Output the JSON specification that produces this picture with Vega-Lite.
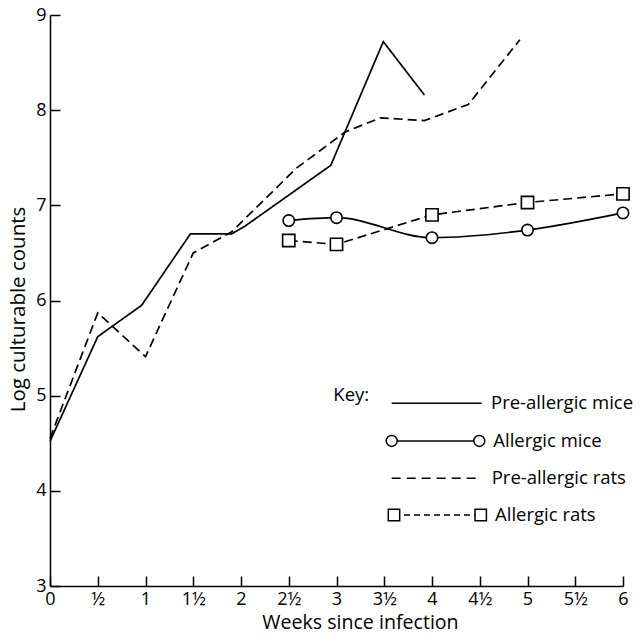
{
  "$schema": "https://vega.github.io/schema/vega-lite/v6.json",
  "width": 573,
  "height": 571,
  "autosize": {"type": "none"},
  "padding": {"left": 50, "top": 15, "right": 17, "bottom": 52},
  "background": "white",
  "config": {
    "view": {"stroke": null},
    "font": "Open Sans",
    "axis": {"grid": false, "domainColor": "black", "domainWidth": 1.5, "tickColor": "black", "tickWidth": 1.5, "labelColor": "black", "titleColor": "black", "labelFont": "Open Sans", "titleFont": "Open Sans", "labelFontSize": 18, "titleFontWeight": "normal"}
  },
  "datasets": {
    "counts": [
      {"series": "Pre-allergic mice", "week": 0, "value": 4.52},
      {"series": "Pre-allergic mice", "week": 0.5, "value": 5.62},
      {"series": "Pre-allergic mice", "week": 0.96, "value": 5.95},
      {"series": "Pre-allergic mice", "week": 1.47, "value": 6.7},
      {"series": "Pre-allergic mice", "week": 1.9, "value": 6.7},
      {"series": "Pre-allergic mice", "week": 2.04, "value": 6.78},
      {"series": "Pre-allergic mice", "week": 2.94, "value": 7.42},
      {"series": "Pre-allergic mice", "week": 3.49, "value": 8.72},
      {"series": "Pre-allergic mice", "week": 3.92, "value": 8.16},
      {"series": "Pre-allergic rats", "week": 0, "value": 4.55},
      {"series": "Pre-allergic rats", "week": 0.5, "value": 5.87},
      {"series": "Pre-allergic rats", "week": 1, "value": 5.41},
      {"series": "Pre-allergic rats", "week": 1.5, "value": 6.5},
      {"series": "Pre-allergic rats", "week": 1.9, "value": 6.72},
      {"series": "Pre-allergic rats", "week": 2.58, "value": 7.39},
      {"series": "Pre-allergic rats", "week": 3.09, "value": 7.77},
      {"series": "Pre-allergic rats", "week": 3.46, "value": 7.92},
      {"series": "Pre-allergic rats", "week": 3.92, "value": 7.89},
      {"series": "Pre-allergic rats", "week": 4.38, "value": 8.06},
      {"series": "Pre-allergic rats", "week": 4.92, "value": 8.74},
      {"series": "Allergic mice", "week": 2.5, "value": 6.84},
      {"series": "Allergic mice", "week": 3, "value": 6.87},
      {"series": "Allergic mice", "week": 4, "value": 6.66},
      {"series": "Allergic mice", "week": 5, "value": 6.74},
      {"series": "Allergic mice", "week": 6, "value": 6.92},
      {"series": "Allergic rats", "week": 2.5, "value": 6.63},
      {"series": "Allergic rats", "week": 3, "value": 6.59},
      {"series": "Allergic rats", "week": 4, "value": 6.9},
      {"series": "Allergic rats", "week": 5, "value": 7.03},
      {"series": "Allergic rats", "week": 6, "value": 7.12}
    ],
    "key": [
      {"part": "label", "series": "Key:", "week": 2.967, "value": 5.01},
      {"part": "line", "series": "Pre-allergic mice", "week": 3.578, "week2": 4.52, "value": 4.92},
      {"part": "label", "series": "Pre-allergic mice", "week": 4.618, "value": 4.92},
      {"part": "line", "series": "Allergic mice", "week": 3.578, "week2": 4.495, "value": 4.524},
      {"part": "marker", "series": "Allergic mice", "week": 3.578, "value": 4.524},
      {"part": "marker", "series": "Allergic mice", "week": 4.495, "value": 4.524},
      {"part": "label", "series": "Allergic mice", "week": 4.642, "value": 4.524},
      {"part": "line", "series": "Pre-allergic rats", "week": 3.578, "week2": 4.468, "value": 4.132},
      {"part": "label", "series": "Pre-allergic rats", "week": 4.625, "value": 4.132},
      {"part": "line", "series": "Allergic rats", "week": 3.602, "week2": 4.51, "value": 3.746},
      {"part": "marker", "series": "Allergic rats", "week": 3.602, "value": 3.746},
      {"part": "marker", "series": "Allergic rats", "week": 4.51, "value": 3.746},
      {"part": "label", "series": "Allergic rats", "week": 4.66, "value": 3.746}
    ]
  },
  "encoding": {
    "x": {"field": "week", "type": "quantitative", "scale": {"domain": [0, 6], "nice": false, "zero": false},
      "axis": {"title": "Weeks since infection", "titleX": 310, "titleFontSize": 19.6, "values": [0, 0.5, 1, 1.5, 2, 2.5, 3, 3.5, 4, 4.5, 5, 5.5, 6], "tickSize": -10, "labelPadding": 14, "labelExpr": "datum.value == 0 ? '0' : (datum.value % 1 == 0 ? format(datum.value, 'd') : (datum.value < 1 ? '½' : floor(datum.value) + '½'))", "titlePadding": 5, "labelFlush": false}},
    "y": {"field": "value", "type": "quantitative", "scale": {"domain": [3, 9], "nice": false, "zero": false},
      "axis": {"title": "Log culturable counts", "titleY": 294, "titleFontSize": 20.5, "values": [3, 4, 5, 6, 7, 8, 9], "tickSize": -10, "labelPadding": 14, "titlePadding": 7, "labelFlush": false}}
  },
  "layer": [
    {
      "data": {"name": "counts"},
      "transform": [{"filter": "datum.series != 'Allergic mice'"}],
      "mark": {"type": "line", "color": "black", "strokeWidth": 1.7},
      "encoding": {
        "strokeDash": {"field": "series", "type": "nominal", "legend": null,
          "scale": {"domain": ["Pre-allergic mice", "Allergic mice", "Pre-allergic rats", "Allergic rats"], "range": [[1, 0], [1, 0], [9, 5], [9, 5]]}}
      }
    },
    {
      "data": {"name": "counts"},
      "transform": [{"filter": "datum.series == 'Allergic mice'"}],
      "mark": {"type": "line", "color": "black", "strokeWidth": 1.7, "interpolate": "monotone"}
    },
    {
      "data": {"name": "counts"},
      "transform": [{"filter": "datum.series == 'Allergic mice'"}],
      "mark": {"type": "point", "shape": "circle", "size": 130, "filled": true, "fill": "white", "stroke": "black", "strokeWidth": 1.6, "opacity": 1}
    },
    {
      "data": {"name": "counts"},
      "transform": [{"filter": "datum.series == 'Allergic rats'"}],
      "mark": {"type": "point", "shape": "square", "size": 150, "filled": true, "fill": "white", "stroke": "black", "strokeWidth": 1.6, "opacity": 1}
    },
    {
      "data": {"name": "key"},
      "transform": [{"filter": "datum.part == 'line' && (datum.series == 'Pre-allergic mice' || datum.series == 'Allergic mice')"}],
      "mark": {"type": "rule", "color": "black", "strokeWidth": 1.5},
      "encoding": {"x2": {"field": "week2"}}
    },
    {
      "data": {"name": "key"},
      "transform": [{"filter": "datum.part == 'line' && datum.series == 'Pre-allergic rats'"}],
      "mark": {"type": "rule", "color": "black", "strokeWidth": 1.5, "strokeDash": [9, 6]},
      "encoding": {"x2": {"field": "week2"}}
    },
    {
      "data": {"name": "key"},
      "transform": [{"filter": "datum.part == 'line' && datum.series == 'Allergic rats'"}],
      "mark": {"type": "rule", "color": "black", "strokeWidth": 1.5, "strokeDash": [6, 4]},
      "encoding": {"x2": {"field": "week2"}}
    },
    {
      "data": {"name": "key"},
      "transform": [{"filter": "datum.part == 'marker' && datum.series == 'Allergic mice'"}],
      "mark": {"type": "point", "shape": "circle", "size": 120, "filled": true, "fill": "white", "stroke": "black", "strokeWidth": 1.5, "opacity": 1}
    },
    {
      "data": {"name": "key"},
      "transform": [{"filter": "datum.part == 'marker' && datum.series == 'Allergic rats'"}],
      "mark": {"type": "point", "shape": "square", "size": 130, "filled": true, "fill": "white", "stroke": "black", "strokeWidth": 1.5, "opacity": 1}
    },
    {
      "data": {"name": "key"},
      "transform": [{"filter": "datum.part == 'label'"}],
      "mark": {"type": "text", "align": "left", "baseline": "middle", "font": "Open Sans", "fontSize": 18.5, "color": "black"},
      "encoding": {"text": {"field": "series"}}
    }
  ]
}
